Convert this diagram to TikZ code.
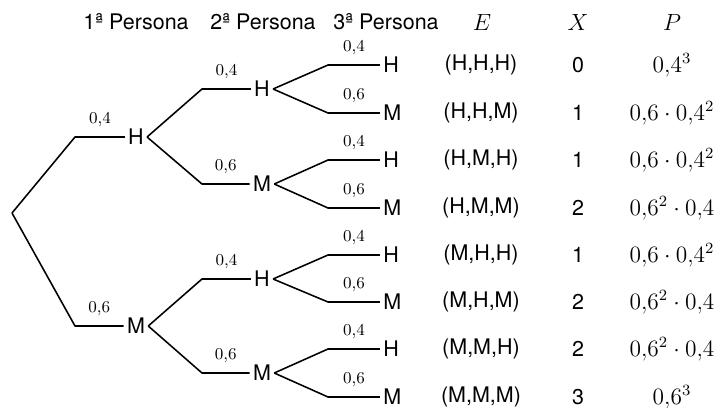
\documentclass[tikz,border=0pt]{standalone}
\usepackage{fontspec}
\setsansfont{TeX Gyre Heros}
\usetikzlibrary{positioning}

\begin{document}
\begin{tikzpicture}[x=0.018cm, y=-0.018cm,
      state/.style={font=\fontsize{11}{13}\sffamily, inner sep=1.5pt},
      leaf/.style={font=\fontsize{11}{13}\sffamily, inner sep=1.5pt, anchor=west},
      prob/.style={font=\fontsize{8.5}{10}\selectfont, above=4pt, inner sep=1pt},
      head/.style={font=\fontsize{11}{13}\sffamily},
      cell/.style={font=\fontsize{11}{13}\sffamily},
      val/.style={font=\fontsize{12}{14}\selectfont},
      arr/.style={line width=0.8pt, line join=round}
    ]
    \useasboundingbox (0,0) rectangle (715,407);

    % Kopfzeile
    \node[head] (pers1) at (136,22) {1ª Persona};
    \node[head] (pers2) at (263,22) {2ª Persona};
    \node[head] (pers3) at (386,22) {3ª Persona};
    \node[val]  (ehead) at (482,22) {$E$};
    \node[val]  (xhead) at (578,22) {$X$};
    \node[val]  (phead) at (672,22) {$P$};

    % Knoten des Baums
    \coordinate (root) at (12,213);
    \node[state] (h)  at (136,137) {H};
    \node[state] (m)  at (136,326) {M};
    \node[state] (hh) at (262,89)  {H};
    \node[state] (hm) at (262,184) {M};
    \node[state] (mh) at (262,279) {H};
    \node[state] (mm) at (262,373) {M};
    \node[leaf] (hhh) at (380,65)  {H};
    \node[leaf] (hhm) at (380,113) {M};
    \node[leaf] (hmh) at (380,160) {H};
    \node[leaf] (hmm) at (380,208) {M};
    \node[leaf] (mhh) at (380,255) {H};
    \node[leaf] (mhm) at (380,302) {M};
    \node[leaf] (mmh) at (380,349) {H};
    \node[leaf] (mmm) at (380,397) {M};

    % Zweige mit Wahrscheinlichkeiten
    \draw[arr] (root) -- (75,137) -- node[prob]{0,4} (h);
    \draw[arr] (root) -- (75,326) -- node[prob]{0,6} (m);
    \draw[arr] (h.east) -- (202,89)  -- node[prob]{0,4} (hh);
    \draw[arr] (h.east) -- (202,184) -- node[prob]{0,6} (hm);
    \draw[arr] (m.east) -- (202,279) -- node[prob]{0,4} (mh);
    \draw[arr] (m.east) -- (202,373) -- node[prob]{0,6} (mm);
    \draw[arr] (hh.east) -- (328,65)  -- node[prob]{0,4} (hhh);
    \draw[arr] (hh.east) -- (328,113) -- node[prob]{0,6} (hhm);
    \draw[arr] (hm.east) -- (328,160) -- node[prob]{0,4} (hmh);
    \draw[arr] (hm.east) -- (328,208) -- node[prob]{0,6} (hmm);
    \draw[arr] (mh.east) -- (328,255) -- node[prob]{0,4} (mhh);
    \draw[arr] (mh.east) -- (328,302) -- node[prob]{0,6} (mhm);
    \draw[arr] (mm.east) -- (328,349) -- node[prob]{0,4} (mmh);
    \draw[arr] (mm.east) -- (328,397) -- node[prob]{0,6} (mmm);

    % Tabelle
    \node[cell] (e1) at (481,65)  {(H,H,H)};
    \node[cell] (e2) at (481,113) {(H,H,M)};
    \node[cell] (e3) at (481,160) {(H,M,H)};
    \node[cell] (e4) at (481,208) {(H,M,M)};
    \node[cell] (e5) at (481,255) {(M,H,H)};
    \node[cell] (e6) at (481,302) {(M,H,M)};
    \node[cell] (e7) at (481,349) {(M,M,H)};
    \node[cell] (e8) at (481,397) {(M,M,M)};

    \node[cell] (x1) at (578,65)  {0};
    \node[cell] (x2) at (578,113) {1};
    \node[cell] (x3) at (578,160) {1};
    \node[cell] (x4) at (578,208) {2};
    \node[cell] (x5) at (578,255) {1};
    \node[cell] (x6) at (578,302) {2};
    \node[cell] (x7) at (578,349) {2};
    \node[cell] (x8) at (578,397) {3};

    \node[val] (p1) at (672,65)  {$0{,}4^3$};
    \node[val] (p2) at (672,113) {$0{,}6\cdot0{,}4^2$};
    \node[val] (p3) at (672,160) {$0{,}6\cdot0{,}4^2$};
    \node[val] (p4) at (672,208) {$0{,}6^2\cdot0{,}4$};
    \node[val] (p5) at (672,255) {$0{,}6\cdot0{,}4^2$};
    \node[val] (p6) at (672,302) {$0{,}6^2\cdot0{,}4$};
    \node[val] (p7) at (672,349) {$0{,}6^2\cdot0{,}4$};
    \node[val] (p8) at (672,397) {$0{,}6^3$};
  \end{tikzpicture}
\end{document}
